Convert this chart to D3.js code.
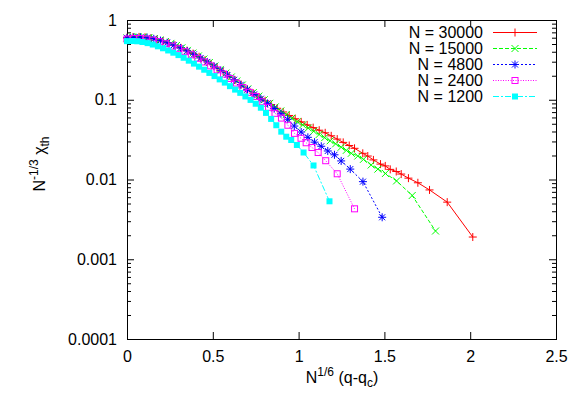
<!DOCTYPE html>
<html><head><meta charset="utf-8">
<script src="https://cdn.jsdelivr.net/npm/d3@7"></script>
<style>body{margin:0;background:#fff}svg{display:block}text{font-family:"Liberation Sans",Arial,Helvetica,sans-serif}</style>
</head><body><svg id="c" width="581" height="407"></svg>
<script>
// ---------- data ----------
const seriesNames = ["N = 30000", "N = 15000", "N = 4800", "N = 2400", "N = 1200"];

const x30000 = [0,0.035,0.07,0.105,0.14,0.175,0.21,0.245,0.28,0.315,0.35,0.385,0.42,0.455,0.49,0.525,0.56,0.595,0.63,0.665,0.70,0.735,0.77,0.805,0.84,0.875,0.91,0.945,0.98,1.015,1.05,1.085,1.12,1.155,1.19,1.225,1.26,1.295,1.326,1.374,1.403,1.436,1.477,1.505,1.534,1.569,1.598,1.640,1.695,1.763,1.866,2.015];
const y30000 = [0.600,0.611,0.614,0.608,0.592,0.569,0.543,0.513,0.481,0.447,0.413,0.379,0.346,0.313,0.281,0.251,0.226,0.200,0.176,0.155,0.136,0.121,0.108,0.0970,0.0871,0.0782,0.0703,0.0635,0.0578,0.0528,0.0484,0.0447,0.0415,0.0385,0.0353,0.0321,0.0292,0.0267,0.0246,0.0213,0.0197,0.0176,0.0156,0.0148,0.0134,0.0126,0.0117,0.0104,0.0091,0.0074,0.0052,0.0019];

const x15000 = [0,0.032,0.064,0.096,0.128,0.160,0.192,0.224,0.256,0.288,0.320,0.352,0.384,0.416,0.448,0.480,0.512,0.544,0.576,0.608,0.640,0.672,0.704,0.736,0.768,0.800,0.832,0.864,0.896,0.928,0.960,0.992,1.024,1.056,1.088,1.120,1.152,1.184,1.216,1.248,1.278,1.307,1.345,1.378,1.423,1.462,1.506,1.571,1.662,1.798];
const y15000 = [0.596,0.611,0.617,0.614,0.603,0.585,0.562,0.537,0.509,0.479,0.448,0.416,0.385,0.354,0.324,0.293,0.265,0.240,0.216,0.193,0.172,0.153,0.137,0.123,0.111,0.100,0.0902,0.0813,0.0724,0.0652,0.0586,0.0531,0.0484,0.0442,0.0403,0.0367,0.0335,0.0306,0.0280,0.0254,0.0232,0.0213,0.0197,0.0179,0.0152,0.0135,0.0119,0.0096,0.0063,0.00226];

const x4800 = [0,0.039,0.078,0.117,0.156,0.195,0.234,0.273,0.312,0.351,0.390,0.429,0.468,0.507,0.546,0.585,0.624,0.663,0.702,0.741,0.780,0.819,0.858,0.897,0.936,0.975,1.015,1.054,1.093,1.132,1.170,1.209,1.248,1.301,1.375,1.487];
const y4800 = [0.596,0.605,0.607,0.600,0.581,0.552,0.519,0.483,0.446,0.408,0.371,0.334,0.298,0.263,0.233,0.204,0.178,0.154,0.134,0.117,0.103,0.0899,0.0776,0.0668,0.0569,0.0468,0.0394,0.0338,0.0294,0.0261,0.0228,0.0204,0.0171,0.0135,0.0094,0.00336];

const x2400 = [0,0.0375,0.075,0.1125,0.150,0.1875,0.225,0.2625,0.300,0.3375,0.375,0.4125,0.450,0.4875,0.525,0.5625,0.600,0.6375,0.675,0.7125,0.750,0.7875,0.825,0.8625,0.900,0.9375,0.976,1.014,1.044,1.078,1.114,1.158,1.225,1.326];
const y2400 = [0.578,0.586,0.586,0.578,0.560,0.535,0.504,0.470,0.436,0.401,0.366,0.331,0.298,0.266,0.237,0.210,0.185,0.162,0.142,0.124,0.110,0.0944,0.0804,0.0676,0.0589,0.0479,0.0379,0.0329,0.0289,0.0252,0.0218,0.0172,0.0118,0.00429];

const x1200 = [0,0.03,0.06,0.09,0.12,0.15,0.18,0.21,0.24,0.27,0.30,0.33,0.36,0.39,0.42,0.45,0.48,0.51,0.54,0.57,0.60,0.63,0.66,0.69,0.72,0.75,0.78,0.81,0.84,0.87,0.899,0.928,0.957,0.990,1.029,1.087,1.180];
const y1200 = [0.543,0.545,0.541,0.530,0.513,0.492,0.468,0.442,0.415,0.389,0.363,0.336,0.309,0.284,0.260,0.238,0.217,0.198,0.180,0.164,0.148,0.134,0.122,0.110,0.0995,0.0891,0.0794,0.0684,0.0575,0.0479,0.0398,0.0344,0.0313,0.0271,0.0218,0.0150,0.00533];

const xTickValues = [0, 0.5, 1, 1.5, 2, 2.5];
const xTickLabels = ["0", "0.5", "1", "1.5", "2", "2.5"];
const yTickValues = [0.0001, 0.001, 0.01, 0.1, 1];
const yTickLabels = ["0.0001", "0.001", "0.01", "0.1", "1"];

// ---------- styles ----------
const styles = [
  {color: "#ff0000", dash: null,       sym: "plus"},
  {color: "#00ff00", dash: "4,2",      sym: "cross"},
  {color: "#0000ff", dash: "2,2",      sym: "star"},
  {color: "#ff00ff", dash: "1,1.5",    sym: "box"},
  {color: "#00ffff", dash: "6,2,2,2",  sym: "fbox"}
];
const xsAll = [x30000, x15000, x4800, x2400, x1200];
const ysAll = [y30000, y15000, y4800, y2400, y1200];

// ---------- chart ----------
const svg = d3.select("#c");
svg.append("rect").attr("width", 581).attr("height", 407).attr("fill", "#fff");

const L = 127, R = 556, T = 20, B = 339;
const x = d3.scaleLinear().domain([0, 2.5]).range([L, R]);
const y = d3.scaleLog().domain([0.0001, 1]).range([B, T]);
const FS = 16;

const minorTicks = y.ticks().filter(v => {
  const l = Math.log10(v); return Math.abs(l - Math.round(l)) > 1e-6;
});

function styleAxis(g) {
  g.select(".domain").remove();
  g.selectAll("line").attr("stroke", "#000");
  g.selectAll("text").attr("font-size", FS).attr("fill", "#000")
    .attr("font-family", "'Liberation Sans',Arial,sans-serif");
}

svg.append("g").attr("transform", `translate(0,${B})`)
  .call(d3.axisBottom(x).tickValues(xTickValues).tickSize(-7).tickPadding(12)
    .tickFormat((d, i) => xTickLabels[i])).call(styleAxis);
svg.append("g").attr("transform", `translate(0,${T})`)
  .call(d3.axisTop(x).tickValues(xTickValues).tickSize(-7).tickFormat("")).call(styleAxis);
svg.append("g").attr("transform", `translate(${L},0)`)
  .call(d3.axisLeft(y).tickValues(yTickValues).tickSize(-7).tickPadding(10)
    .tickFormat((d, i) => yTickLabels[i])).call(styleAxis);
svg.append("g").attr("transform", `translate(${L},0)`)
  .call(d3.axisLeft(y).tickValues(minorTicks).tickSize(-4).tickFormat("")).call(styleAxis);
svg.append("g").attr("transform", `translate(${R},0)`)
  .call(d3.axisRight(y).tickValues(yTickValues).tickSize(-7).tickFormat("")).call(styleAxis);
svg.append("g").attr("transform", `translate(${R},0)`)
  .call(d3.axisRight(y).tickValues(minorTicks).tickSize(-4).tickFormat("")).call(styleAxis);

// frame
svg.append("rect").attr("x", L + 0.5).attr("y", T + 0.5).attr("width", R - L).attr("height", B - T)
  .attr("fill", "none").attr("stroke", "#000").attr("stroke-width", 1);

// markers
function marker(g, sym, cx, cy, color) {
  if (sym === "plus") {
    g.append("path").attr("d", `M${cx-4},${cy}H${cx+4}M${cx},${cy-4}V${cy+4}`)
      .attr("stroke", color).attr("fill", "none");
  } else if (sym === "cross") {
    g.append("path").attr("d", `M${cx-3.5},${cy-3.5}L${cx+3.5},${cy+3.5}M${cx-3.5},${cy+3.5}L${cx+3.5},${cy-3.5}`)
      .attr("stroke", color).attr("fill", "none");
  } else if (sym === "star") {
    g.append("path").attr("d", `M${cx-4},${cy}H${cx+4}M${cx},${cy-4}V${cy+4}M${cx-3},${cy-3}L${cx+3},${cy+3}M${cx-3},${cy+3}L${cx+3},${cy-3}`)
      .attr("stroke", color).attr("fill", "none");
  } else if (sym === "box") {
    g.append("rect").attr("x", cx - 3).attr("y", cy - 3).attr("width", 6).attr("height", 6)
      .attr("stroke", color).attr("fill", "none");
  } else if (sym === "fbox") {
    g.append("rect").attr("x", cx - 3).attr("y", cy - 3).attr("width", 6).attr("height", 6)
      .attr("fill", color);
  }
}

const line = d3.line().x(d => x(d[0])).y(d => y(d[1]));
xsAll.forEach((xs, i) => {
  const st = styles[i];
  const pts = xs.map((v, j) => [v, ysAll[i][j]]);
  const g = svg.append("g");
  g.append("path").datum(pts).attr("d", line).attr("fill", "none")
    .attr("stroke", st.color).attr("stroke-width", 1)
    .attr("stroke-dasharray", st.dash);
  pts.forEach(p => marker(g, st.sym, x(p[0]), y(p[1]), st.color));
});

// legend
const lg = svg.append("g");
seriesNames.forEach((name, i) => {
  const st = styles[i];
  const cy = 32.5 + 16 * i;
  lg.append("text").attr("x", 483).attr("y", cy + 5.7).attr("text-anchor", "end")
    .attr("font-size", FS).attr("fill", "#000").text(name);
  lg.append("line").attr("x1", 493).attr("x2", 537).attr("y1", cy).attr("y2", cy)
    .attr("stroke", st.color).attr("stroke-width", 1).attr("stroke-dasharray", st.dash);
  marker(lg, st.sym, 515, cy, st.color);
});

// axis titles
const xt = svg.append("text").attr("x", 342).attr("y", 383).attr("text-anchor", "middle")
  .attr("font-size", FS).attr("fill", "#000");
xt.append("tspan").text("N");
xt.append("tspan").attr("font-size", 12).attr("dy", -7).text("1/6");
xt.append("tspan").attr("dy", 7).text(" (q-q");
xt.append("tspan").attr("font-size", 12).attr("dy", 4).text("c");
xt.append("tspan").attr("dy", -4).text(")");

const yt = svg.append("text").attr("transform", "translate(45,164) rotate(-90)")
  .attr("text-anchor", "middle").attr("font-size", FS).attr("fill", "#000");
yt.append("tspan").text("N");
yt.append("tspan").attr("font-size", 12).attr("dy", -7).text("-1/3");
yt.append("tspan").attr("dy", 7).text(" χ");
yt.append("tspan").attr("font-size", 12).attr("dy", 4).text("th");
</script>
</body></html>
